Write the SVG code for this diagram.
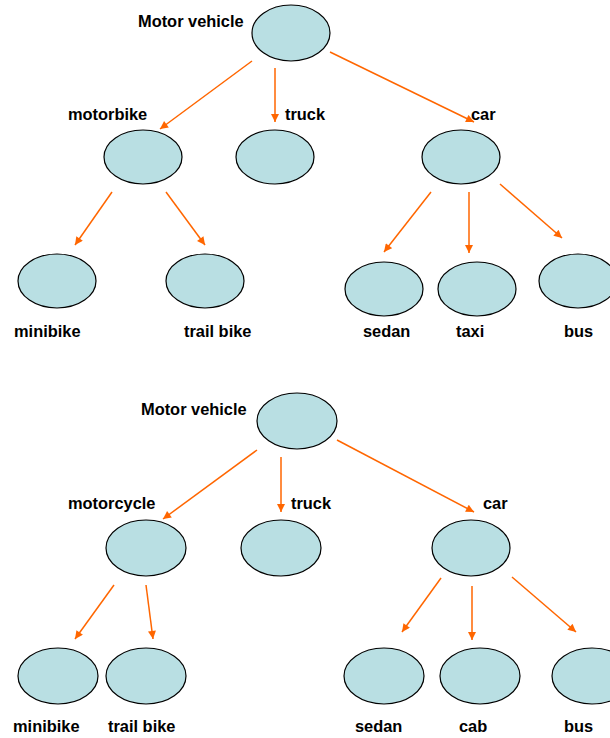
<svg xmlns="http://www.w3.org/2000/svg" width="610" height="738" viewBox="0 0 610 738">
  <defs>
    <marker id="arrow" viewBox="0 0 10 10" refX="10" refY="5" markerWidth="9" markerHeight="8" markerUnits="userSpaceOnUse" orient="auto">
      <path d="M0,0 L10,5 L0,10 z" fill="#FF6600"/>
    </marker>
  </defs>
  <style>
    .node ellipse { fill: #B9DFE3; stroke: #000; stroke-width: 1.2; }
    .node text { font-family: "Liberation Sans", Arial, sans-serif; font-weight: bold; font-size: 16.4px; fill: #000; }
    #edges line { stroke: #FF6600; stroke-width: 1.5; marker-end: url(#arrow); }
  </style>
  <rect width="610" height="738" fill="#fff"/>

  <!-- upper tree -->
  <g id="mv1" class="node"><ellipse cx="291" cy="33" rx="39" ry="28"/><text x="138" y="27">Motor vehicle</text></g>
  <g id="motorbike" class="node"><ellipse cx="143" cy="157" rx="39" ry="27"/><text x="68" y="120">motorbike</text></g>
  <g id="truck1" class="node"><ellipse cx="275" cy="157" rx="39" ry="27"/><text x="285" y="120">truck</text></g>
  <g id="car1" class="node"><ellipse cx="461" cy="157" rx="39" ry="27"/><text x="471" y="120">car</text></g>
  <g id="minibike1" class="node"><ellipse cx="57" cy="281" rx="39" ry="27"/><text x="14" y="337">minibike</text></g>
  <g id="trailbike1" class="node"><ellipse cx="205" cy="281" rx="39" ry="27"/><text x="184" y="337">trail bike</text></g>
  <g id="sedan1" class="node"><ellipse cx="384" cy="289" rx="39" ry="27"/><text x="363" y="337">sedan</text></g>
  <g id="taxi" class="node"><ellipse cx="477" cy="289" rx="39" ry="27"/><text x="456" y="337">taxi</text></g>
  <g id="bus1" class="node"><ellipse cx="578" cy="281" rx="39" ry="27"/><text x="564" y="337">bus</text></g>

  <!-- lower tree -->
  <g id="mv2" class="node"><ellipse cx="297" cy="421" rx="40" ry="28"/><text x="141" y="415">Motor vehicle</text></g>
  <g id="motorcycle" class="node"><ellipse cx="146" cy="548" rx="40" ry="28"/><text x="68" y="509">motorcycle</text></g>
  <g id="truck2" class="node"><ellipse cx="281" cy="548" rx="40" ry="28"/><text x="291" y="509">truck</text></g>
  <g id="car2" class="node"><ellipse cx="471" cy="548" rx="39" ry="28"/><text x="483" y="509">car</text></g>
  <g id="minibike2" class="node"><ellipse cx="58" cy="676" rx="40" ry="28"/><text x="13" y="732">minibike</text></g>
  <g id="trailbike2" class="node"><ellipse cx="146" cy="676" rx="40" ry="28"/><text x="108" y="732">trail bike</text></g>
  <g id="sedan2" class="node"><ellipse cx="384" cy="676" rx="40" ry="28"/><text x="355" y="732">sedan</text></g>
  <g id="cab" class="node"><ellipse cx="480" cy="676" rx="40" ry="28"/><text x="459" y="732">cab</text></g>
  <g id="bus2" class="node"><ellipse cx="592" cy="676" rx="40" ry="28"/><text x="564" y="732">bus</text></g>

  <g id="edges">
    <line x1="252" y1="61" x2="160" y2="129"/>
    <line x1="275" y1="68" x2="275" y2="122"/>
    <line x1="330" y1="52" x2="474" y2="122"/>
    <line x1="112" y1="192" x2="75" y2="245"/>
    <line x1="166" y1="192" x2="205" y2="245"/>
    <line x1="431" y1="192" x2="384" y2="252"/>
    <line x1="469" y1="192" x2="469" y2="253"/>
    <line x1="500" y1="184" x2="562" y2="238"/>

    <line x1="257" y1="450" x2="163" y2="519"/>
    <line x1="281" y1="457" x2="281" y2="512"/>
    <line x1="337" y1="440" x2="474" y2="512"/>
    <line x1="114" y1="585" x2="75" y2="639"/>
    <line x1="146" y1="585" x2="153" y2="639"/>
    <line x1="441" y1="578" x2="402" y2="632"/>
    <line x1="472" y1="586" x2="472" y2="640"/>
    <line x1="512" y1="577" x2="576" y2="632"/>
  </g>
</svg>
